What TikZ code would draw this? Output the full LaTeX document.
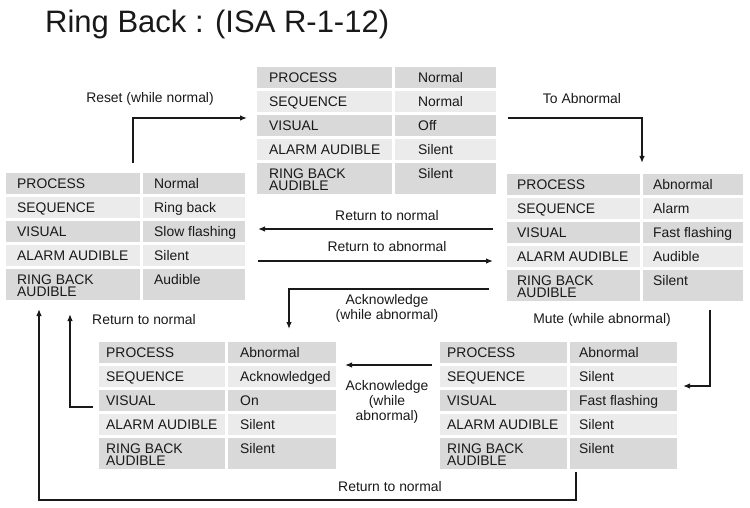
\documentclass[tikz,border=0pt]{standalone}
\usepackage{fontspec}
\setmainfont{Liberation Sans}
\usetikzlibrary{arrows.meta}

\colorlet{rowdark}{black!15}
\colorlet{rowlight}{black!8}
\colorlet{ink}{black!90}

\newcommand\capstrut{\rule{0pt}{10.3pt}}
\newcommand\rowlabel[1]{\ifcase#1\or PROCESS\or SEQUENCE\or VISUAL\or ALARM AUDIBLE\or RING BACK\\AUDIBLE\fi}

% #1 name, #2 left, #3 top, #4/#5 column widths, #6/#7 text insets, #8 values
\newcommand\statetable[8]{%
  \foreach \val [count=\k] in {#8} {
    \pgfmathsetmacro\rowtop{#3+24*(\k-1)}
    \pgfmathsetmacro\rowht{\k==5 ? 31 : 21}
    \ifodd\k\def\rowfill{rowdark}\else\def\rowfill{rowlight}\fi
    \node[cell,fill=\rowfill,minimum width=#4,minimum height=\rowht] (#1-\k-a) at (#2,\rowtop) {};
    \node[cell,fill=\rowfill,minimum width=#5,minimum height=\rowht] (#1-\k-b) at (#2+#4+3,\rowtop) {};
    \node[celltext] (#1-\k-l) at ([shift={(#6,5)}]#1-\k-a.north west) {\capstrut\rowlabel{\k}};
    \node[celltext] (#1-\k-v) at ([shift={(#7,5)}]#1-\k-b.north west) {\capstrut\val};
  }%
}

\begin{document}
\begin{tikzpicture}[x=1pt, y=-1pt,
  cell/.style={inner sep=0pt, anchor=north west},
  celltext/.style={inner sep=0pt, anchor=north west, align=left, text=ink,
    font=\fontsize{13.9}{12.2}\selectfont},
  lbl/.style={inner sep=0pt, align=center, text=ink,
    font=\fontsize{13.9}{15}\selectfont},
  flow/.style={line width=1.3pt, draw=ink, -{Latex[length=7pt,width=5.5pt]}}]
\useasboundingbox (0,0) rectangle (750,508);
% title
\node[anchor=base west, inner sep=0pt, text=ink, font=\fontsize{31}{36}\selectfont]
  (title) at (45,33) {Ring Back : (ISA R-1-12)};
% state tables
\statetable{T}{257}{67}{135}{101}{12}{23}{Normal,Normal,Off,Silent,Silent}
\statetable{L}{6}{173}{134}{102}{11}{11}{Normal,Ring back,Slow flashing,Silent,Audible}
\statetable{R}{507}{174}{133}{100}{10}{10}{Abnormal,Alarm,Fast flashing,Audible,Silent}
\statetable{BL}{99}{342}{126}{108}{7}{12}{Abnormal,Acknowledged,On,Silent,Silent}
\statetable{BR}{440}{342}{127}{107}{7}{9}{Abnormal,Silent,Fast flashing,Silent,Silent}
% connector ends
\coordinate (reset-s) at (133,163);  \coordinate (reset-e) at (247,118);
\coordinate (toab-s) at (508,118);   \coordinate (toab-e) at (642,163);
\coordinate (ack-s) at (489,289);    \coordinate (ack-e) at (289,329);
\coordinate (mute-s) at (710,310);   \coordinate (mute-e) at (683,386);
\coordinate (rnl-s) at (93,407);     \coordinate (rnl-e) at (70,314);
\coordinate (rnb-s) at (576,472);    \coordinate (rnb-c) at (39,500);
\coordinate (rnb-e) at (39,309);
% transitions
\draw[flow] (reset-s) |- (reset-e);
\node[lbl] (reset) at (150,99) {Reset (while normal)};
\draw[flow] (toab-s) -| (toab-e);
\node[lbl] (toab) at (582,99) {To Abnormal};
\draw[flow] (R-3-a.west |- 0,229) ++(-14,0) -- (258,229);
\node[lbl] (rn) at (387,216) {Return to normal};
\draw[flow] (L-4-b.east |- 0,261) ++(13,0) -- (493,261);
\node[lbl] (ra) at (387,247) {Return to abnormal};
\draw[flow] (ack-s) -| (ack-e);
\node[lbl] (ack) at (387,308) {Acknowledge\\(while abnormal)};
\draw[flow] (mute-s) |- (mute-e);
\node[lbl] (mute) at (602,320) {Mute (while abnormal)};
\draw[flow] (BR-2-a.west |- 0,365) ++(-8,0) -- (345,365);
\node[lbl] (ack2) at (387,402) {Acknowledge\\(while\\abnormal)};
\draw[flow] (rnl-s) -| (rnl-e);
\node[lbl] (rnl) at (144,320) {Return to normal};
\draw[flow] (rnb-s) |- (rnb-c) -- (rnb-e);
\node[lbl] (rnb) at (390,487) {Return to normal};
\end{tikzpicture}
\end{document}
